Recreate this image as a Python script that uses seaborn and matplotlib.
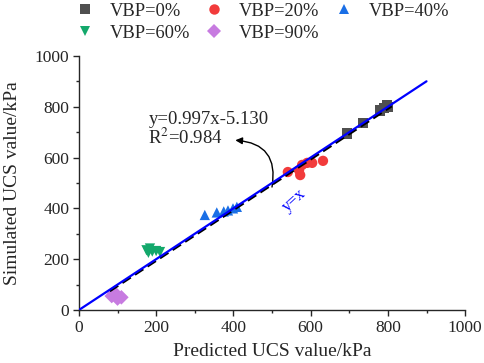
import numpy as np
import pandas as pd
import matplotlib
matplotlib.use("Agg")
import matplotlib.pyplot as plt
from matplotlib.ticker import MultipleLocator
from matplotlib.lines import Line2D
import seaborn as sns

groups = ["VBP=0%", "VBP=20%", "VBP=40%", "VBP=60%", "VBP=90%"]
pred_0 = [695, 735, 780, 790, 797, 800]
sim_0 = [695, 737, 785, 795, 805, 800]
pred_20 = [541, 573, 578, 591, 604, 632, 570]
sim_20 = [543, 531, 571, 579, 579, 587, 550]
pred_40 = [326, 357, 375, 386, 399, 409]
sim_40 = [374, 384, 388, 392, 400, 406]
pred_60 = [175, 184, 190, 200, 210, 180]
sim_60 = [235, 242, 230, 232, 228, 225]
pred_90 = [85, 95, 100, 110, 92]
sim_90 = [55, 60, 45, 50, 68]
fit_slope, fit_intercept = 0.997, -5.130
r2 = 0.984

colors = {"VBP=0%": "#4f4f4f", "VBP=20%": "#f23b3b", "VBP=40%": "#1a6fe6",
          "VBP=60%": "#13a86b", "VBP=90%": "#c77be0"}
markers = {"VBP=0%": "s", "VBP=20%": "o", "VBP=40%": "^", "VBP=60%": "v", "VBP=90%": "D"}

rows = []
for g, xs, ys in zip(groups, [pred_0, pred_20, pred_40, pred_60, pred_90],
                     [sim_0, sim_20, sim_40, sim_60, sim_90]):
    for a, b in zip(xs, ys):
        rows.append((g, a, b))
df = pd.DataFrame(rows, columns=["group", "pred", "sim"])

sns.set_style("ticks")
plt.rcParams["font.family"] = ["Liberation Serif", "DejaVu Serif"]
plt.rcParams["mathtext.fontset"] = "stix"

fig = plt.figure(figsize=(4.84, 3.63), dpi=100)
ax = fig.add_axes([0.163, 0.146, 0.798, 0.700])

sns.scatterplot(data=df, x="pred", y="sim", hue="group", style="group",
                palette=colors, markers=markers, s=55, edgecolor="none",
                ax=ax, legend=False, zorder=3)

xl = np.array([0, 900])
sns.lineplot(x=xl, y=xl, color="#0000ff", lw=1.6, ax=ax, zorder=4)
xf = np.array([80, 810])
ax.plot(xf, fit_slope * xf + fit_intercept, color="black", lw=1.8,
        ls=(0, (4, 2)), zorder=3.5)

ax.set_xlim(0, 1000)
ax.set_ylim(0, 1000)
ax.xaxis.set_major_locator(MultipleLocator(200))
ax.yaxis.set_major_locator(MultipleLocator(200))
ax.xaxis.set_minor_locator(MultipleLocator(100))
ax.yaxis.set_minor_locator(MultipleLocator(100))
ax.tick_params(which="major", direction="out", length=4, width=1, labelsize=12.5, pad=3)
ax.tick_params(which="minor", direction="out", length=2.5, width=1)
for s in ["left", "bottom"]:
    ax.spines[s].set_linewidth(1.0)
sns.despine(ax=ax)
ax.set_xlabel("Predicted UCS value/kPa", fontsize=14, labelpad=5.5)
ax.set_ylabel("Simulated UCS value/kPa", fontsize=14, labelpad=9.5)

ax.text(180, 732, "y=0.997x-5.130", fontsize=13.5)
ax.text(180, 652, "R$^2$=0.984", fontsize=13.5)
ax.annotate("", xy=(405, 668), xytext=(500, 484),
            arrowprops=dict(arrowstyle="-|>", color="black", lw=1,
                            connectionstyle="arc3,rad=0.55", mutation_scale=10,
                            shrinkA=0, shrinkB=0))
ax.text(557, 433, "y=x", color="#0000ff", fontsize=12, rotation=42,
        ha="center", va="center")

order = ["VBP=0%", "VBP=60%", "VBP=20%", "VBP=90%", "VBP=40%"]
handles = [Line2D([], [], ls="none", marker=markers[g], color=colors[g],
                  markersize=7.5, markeredgewidth=0) for g in order]
fig.legend(handles, order, ncol=3, loc="upper left", bbox_to_anchor=(0.1565, 0.992),
           frameon=False, fontsize=13.3, handletextpad=0.85, columnspacing=0.8,
           labelspacing=0.25, handlelength=1.0, borderpad=0, borderaxespad=0)

fig.savefig("out.png", dpi=100)
